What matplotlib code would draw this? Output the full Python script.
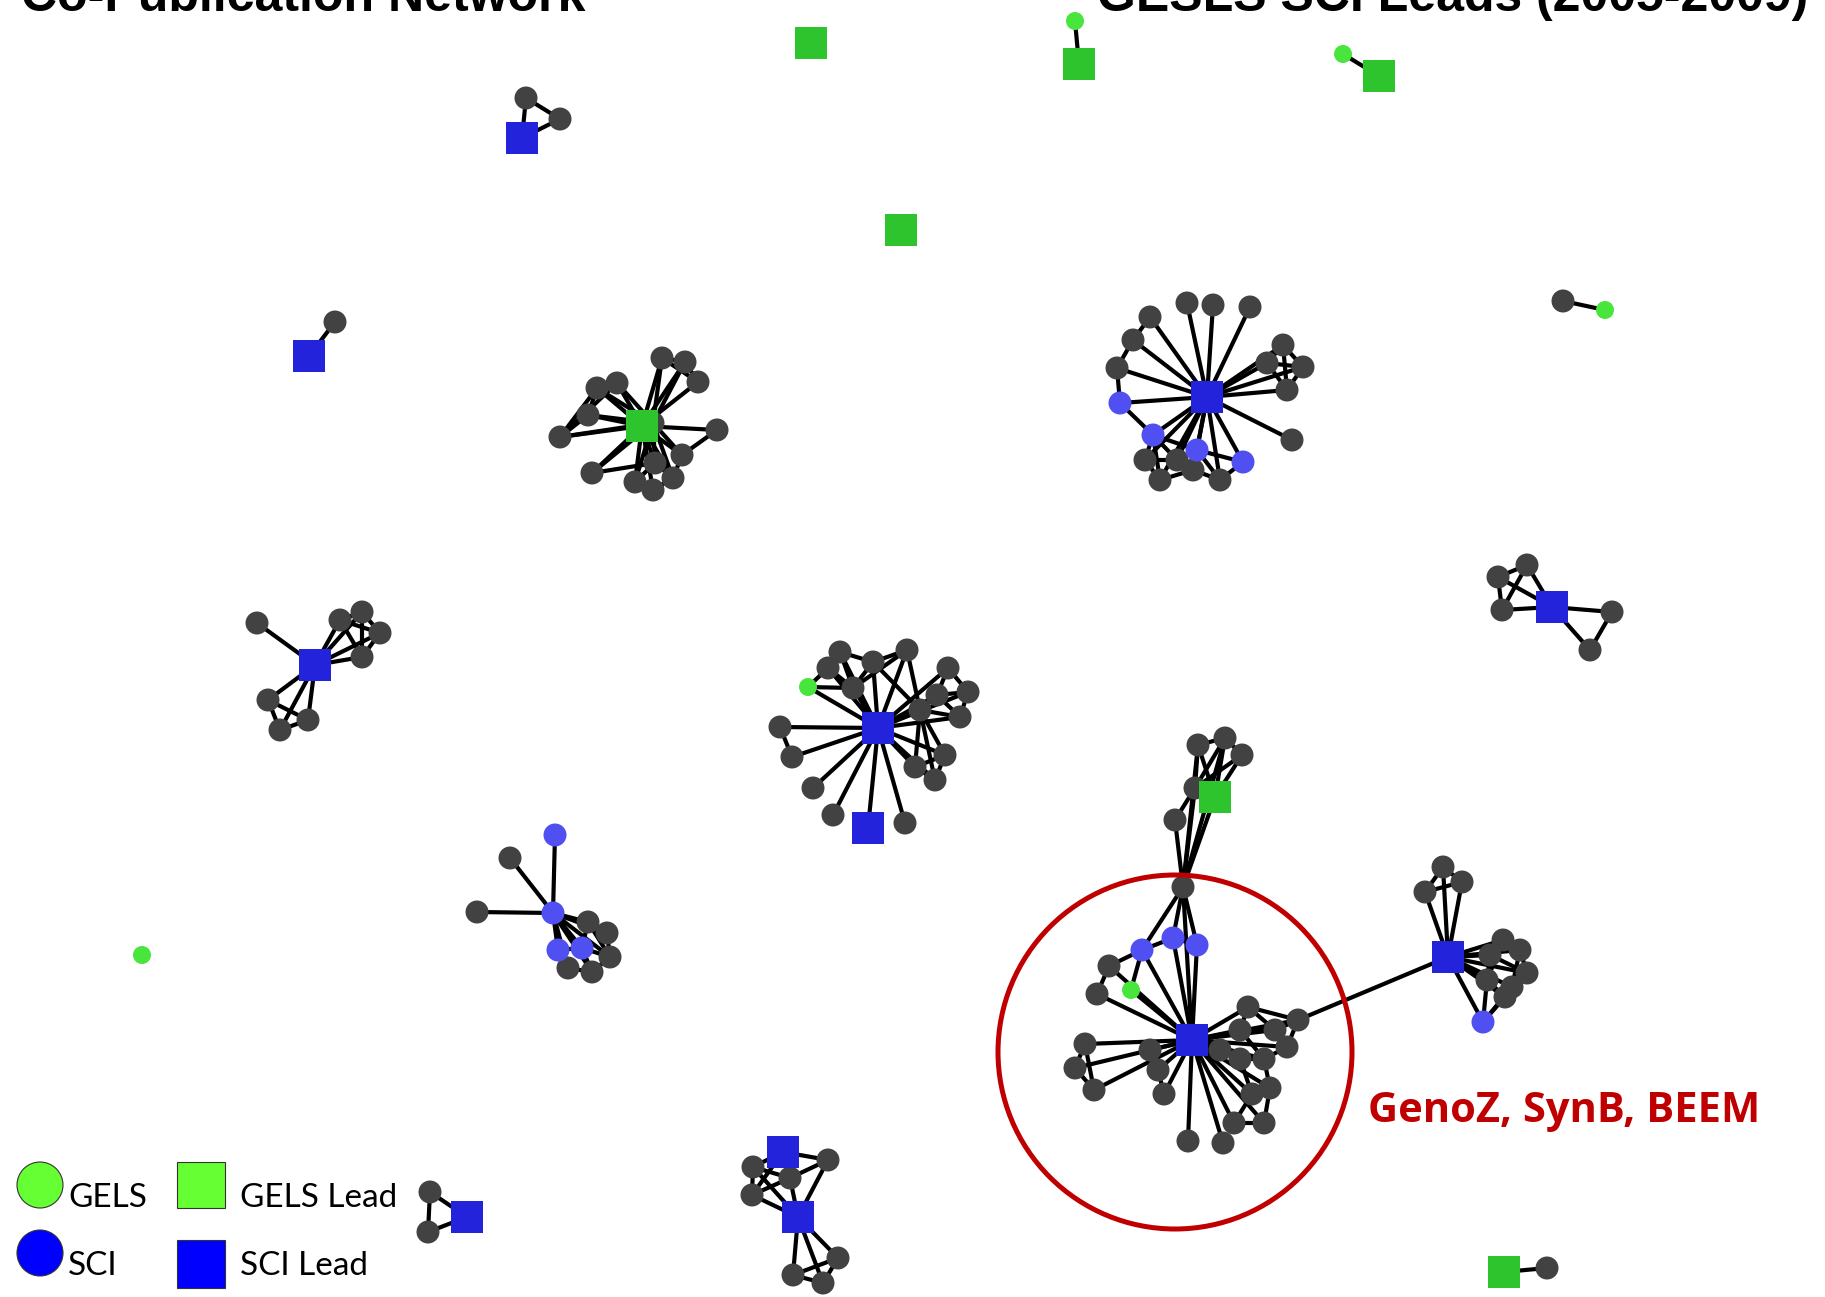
import matplotlib
matplotlib.use("Agg")
import matplotlib.pyplot as plt
from matplotlib.patches import Circle, Rectangle

# ---------------- data ----------------
# node kinds: d = other author, g = GELS, s = SCI, G = GELS Lead, S = SCI Lead
clusters = {}

clusters["gels_iso1"] = dict(nodes=[(811, 43, "G")], edges=[])
clusters["gels_pair1"] = dict(nodes=[(1079, 64, "G"), (1075, 21, "g")], edges=[(0, 1)])
clusters["gels_pair2"] = dict(nodes=[(1379, 76, "G"), (1343, 54, "g")], edges=[(0, 1)])
clusters["gels_iso2"] = dict(nodes=[(901, 230, "G")], edges=[])
clusters["gels_pair3"] = dict(nodes=[(1605, 310, "g"), (1563, 301, "d")], edges=[(0, 1)])
clusters["gels_iso3"] = dict(nodes=[(142, 955, "g")], edges=[])
clusters["gels_pair4"] = dict(nodes=[(1504, 1272, "G"), (1547, 1268, "d")], edges=[(0, 1)])

clusters["sci_tri1"] = dict(nodes=[(522, 138, "S"), (526, 98, "d"), (560, 119, "d")],
                            edges=[(0, 1), (0, 2), (1, 2)])
clusters["sci_pair1"] = dict(nodes=[(309, 356, "S"), (335, 322, "d")], edges=[(0, 1)])
clusters["sci_tri2"] = dict(nodes=[(467, 1217, "S"), (430, 1192, "d"), (428, 1232, "d")],
                            edges=[(0, 1), (0, 2), (1, 2)])

clusters["gels_star"] = dict(
    nodes=[(642, 426, "G"), (662, 358, "d"), (685, 362, "d"), (698, 382, "d"), (597, 388, "d"),
           (617, 383, "d"), (588, 415, "d"), (560, 437, "d"), (717, 430, "d"), (592, 473, "d"),
           (682, 455, "d"), (655, 463, "d"), (673, 478, "d"), (635, 482, "d"), (653, 490, "d"),
           (653, 423, "d")],
    edges=[(0, i) for i in range(1, 16)] + [(7, 4), (7, 5), (7, 6), (6, 4), (4, 5), (1, 2), (2, 3),
                                           (1, 3), (8, 10), (11, 12), (13, 14), (11, 13), (10, 12),
                                           (14, 12), (9, 11), (15, 10), (15, 11), (6, 15), (4, 15),
                                           (5, 15), (1, 15), (2, 15), (13, 15), (9, 15), (12, 15),
                                           (7, 15)])

clusters["sci_star1"] = dict(
    nodes=[(1207, 397, "S"), (1187, 303, "d"), (1213, 305, "d"), (1250, 307, "d"), (1150, 317, "d"),
           (1133, 340, "d"), (1117, 368, "d"), (1120, 403, "s"), (1153, 435, "s"), (1197, 450, "s"),
           (1243, 462, "s"), (1283, 345, "d"), (1267, 363, "d"), (1303, 367, "d"), (1287, 390, "d"),
           (1292, 440, "d"), (1145, 460, "d"), (1160, 480, "d"), (1193, 470, "d"), (1220, 480, "d"),
           (1177, 460, "d")],
    edges=[(0, i) for i in range(1, 21)] + [(4, 5), (5, 6), (6, 7), (7, 8), (11, 12), (11, 13),
                                           (11, 14), (12, 13), (12, 14), (13, 14), (8, 16), (8, 17),
                                           (8, 20), (9, 18), (9, 19), (9, 10), (16, 17), (17, 18),
                                           (18, 19), (16, 20), (20, 18), (10, 19), (8, 9)])

clusters["sci_star2"] = dict(
    nodes=[(878, 728, "S"), (808, 687, "g"), (840, 652, "d"), (907, 650, "d"), (873, 662, "d"),
           (828, 668, "d"), (853, 688, "d"), (948, 668, "d"), (968, 692, "d"), (937, 695, "d"),
           (920, 710, "d"), (960, 717, "d"), (780, 727, "d"), (792, 757, "d"), (945, 755, "d"),
           (915, 767, "d"), (935, 780, "d"), (813, 788, "d"), (833, 815, "d"), (905, 823, "d"),
           (868, 828, "S")],
    edges=[(0, i) for i in range(1, 21)] + [(12, 13), (2, 4), (4, 3), (2, 5), (5, 6), (2, 6),
                                           (4, 6), (3, 6), (1, 6), (1, 5), (3, 10), (7, 8), (7, 9),
                                           (8, 9), (8, 11), (9, 11), (9, 10), (10, 11), (10, 14),
                                           (10, 15), (14, 16), (15, 16), (14, 15), (4, 10), (10, 16)])

clusters["sci_star3"] = dict(
    nodes=[(315, 665, "S"), (257, 623, "d"), (340, 620, "d"), (362, 612, "d"), (380, 633, "d"),
           (362, 657, "d"), (268, 700, "d"), (280, 730, "d"), (308, 720, "d")],
    edges=[(0, i) for i in range(1, 9)] + [(2, 3), (2, 4), (2, 5), (3, 4), (3, 5), (4, 5),
                                          (6, 7), (7, 8), (6, 8)])

clusters["sci_circle"] = dict(
    nodes=[(553, 913, "s"), (555, 835, "s"), (510, 858, "d"), (477, 912, "d"), (558, 950, "s"),
           (582, 948, "s"), (588, 922, "d"), (607, 933, "d"), (610, 957, "d"), (568, 968, "d"),
           (592, 972, "d")],
    edges=[(0, i) for i in range(1, 11)] + [(4, 5), (5, 6), (6, 7), (7, 8), (8, 10), (9, 10),
                                           (4, 9), (5, 10), (5, 8), (6, 8)])

clusters["sci_pair_leads"] = dict(
    nodes=[(783, 1152, "S"), (798, 1217, "S"), (753, 1167, "d"), (752, 1195, "d"), (828, 1160, "d"),
           (790, 1178, "d"), (838, 1258, "d"), (793, 1275, "d"), (823, 1283, "d")],
    edges=[(0, 2), (0, 3), (0, 4), (0, 5), (1, 2), (1, 3), (1, 4), (1, 5), (2, 3), (2, 5), (3, 5),
           (4, 5), (1, 6), (1, 7), (1, 8), (6, 7), (7, 8), (6, 8)])

clusters["sci_right"] = dict(
    nodes=[(1552, 607, "S"), (1498, 577, "d"), (1527, 565, "d"), (1502, 610, "d"), (1612, 612, "d"),
           (1590, 650, "d")],
    edges=[(0, 1), (0, 2), (0, 3), (0, 4), (0, 5), (1, 2), (1, 3), (2, 3), (4, 5)])

clusters["big"] = dict(
    nodes=[(1192, 1040, "S"),                                                       # 0 hub lead
           (1183, 887, "d"),                                                        # 1 connector
           (1215, 797, "G"), (1198, 745, "d"), (1225, 738, "d"), (1242, 755, "d"),  # 2-5
           (1195, 788, "d"), (1175, 820, "d"),                                      # 6-7
           (1142, 950, "s"), (1173, 938, "s"), (1197, 945, "s"),                    # 8-10
           (1131, 990, "g"), (1109, 966, "d"), (1097, 994, "d"),                    # 11-13
           (1085, 1044, "d"), (1075, 1068, "d"), (1094, 1090, "d"), (1150, 1050, "d"),  # 14-17
           (1164, 1094, "d"), (1188, 1141, "d"), (1223, 1143, "d"), (1158, 1070, "d"),  # 18-21
           (1248, 1007, "d"), (1298, 1020, "d"), (1240, 1030, "d"), (1275, 1030, "d"),  # 22-25
           (1287, 1047, "d"), (1264, 1059, "d"), (1240, 1059, "d"), (1270, 1088, "d"),  # 26-29
           (1252, 1094, "d"), (1234, 1123, "d"), (1264, 1123, "d"), (1220, 1050, "d"),  # 30-33
           (1448, 957, "S"),                                                        # 34 right lead
           (1443, 867, "d"), (1425, 892, "d"), (1462, 882, "d"), (1503, 940, "d"),  # 35-38
           (1520, 950, "d"), (1490, 955, "d"), (1527, 973, "d"), (1487, 980, "d"),  # 39-42
           (1512, 987, "d"), (1505, 997, "d"), (1483, 1022, "s")],                  # 43-45
    edges=[(0, i) for i in list(range(1, 2)) + list(range(8, 34))]
          + [(1, 2), (1, 3), (1, 4), (1, 6), (1, 7), (2, 3), (2, 4), (2, 5), (3, 4), (4, 5),
             (3, 6), (4, 6), (5, 6), (6, 7), (2, 6), (1, 8), (1, 9), (1, 10), (8, 9), (9, 10),
             (8, 11), (8, 12), (12, 13), (14, 15), (15, 16), (14, 16), (17, 21), (18, 21),
             (22, 23), (22, 24), (23, 25), (24, 25), (25, 26), (26, 27), (27, 28), (24, 27),
             (27, 29), (28, 30), (29, 30), (30, 31), (31, 32), (29, 32), (22, 25), (23, 26),
             (23, 34)]
          + [(34, i) for i in range(35, 46)]
          + [(35, 36), (35, 37), (36, 37), (38, 39), (38, 40), (39, 41), (40, 42), (41, 43),
             (42, 44), (43, 44), (40, 41), (38, 42), (39, 43), (42, 45), (44, 45), (43, 45)])

kind_style = {
    "d": dict(marker="o", color="#424242", size=23),
    "g": dict(marker="o", color="#48e63c", size=18),
    "s": dict(marker="o", color="#5050f2", size=23),
    "G": dict(marker="s", color="#2ec42e", size=32),
    "S": dict(marker="s", color="#2323dc", size=32),
}
kind_order = ["d", "g", "s", "G", "S"]

title_left = "Co-Publication Network"
title_right = "GESLS SCI Leads (2005-2009)"
annotation_text = "GenoZ, SynB, BEEM"
legend_labels = ["GELS", "SCI", "GELS Lead", "SCI Lead"]

# ---------------- figure ----------------
W, H = 1825, 1297
fig = plt.figure(figsize=(W / 100, H / 100), dpi=100)
ax = fig.add_axes([0, 0, 1, 1])
ax.set_xlim(0, W)
ax.set_ylim(H, 0)
ax.axis("off")

pt_per_px = 72 / 100

# edges
for c in clusters.values():
    nodes = c["nodes"]
    for a, b in c["edges"]:
        ax.plot([nodes[a][0], nodes[b][0]], [nodes[a][1], nodes[b][1]],
                color="black", lw=3.0, solid_capstyle="round", zorder=1)

# nodes by kind
for k in kind_order:
    xs, ys = [], []
    for c in clusters.values():
        for x, y, kk in c["nodes"]:
            if kk == k:
                xs.append(x)
                ys.append(y)
    st = kind_style[k]
    ax.scatter(xs, ys, marker=st["marker"], s=(st["size"] * pt_per_px) ** 2,
               color=st["color"], edgecolors="none", zorder=2 + kind_order.index(k))

# red circle highlight
ax.add_patch(Circle((1175, 1052), 177, fill=False, edgecolor="#c00000", lw=3.6, zorder=10))
ax.text(1368, 1122, annotation_text, color="#c00000", fontsize=30, fontweight="bold",
        family="Open Sans", va="baseline", ha="left", zorder=11)

# titles (partially cut at the top, as in the reference)
ax.text(21, 11, title_left, fontsize=36, fontweight="bold", family="Liberation Sans",
        va="baseline", ha="left", zorder=11)
ax.text(1097, 11, title_right, fontsize=36, fontweight="bold", family="Liberation Sans",
        va="baseline", ha="left", zorder=11)

# legend
ax.add_patch(Circle((40, 1185), 23, facecolor="#66ff33", edgecolor="#333333", lw=0.8, zorder=11))
ax.add_patch(Circle((40, 1253), 23, facecolor="#0000ff", edgecolor="#333333", lw=0.8, zorder=11))
ax.add_patch(Rectangle((177, 1162), 48, 46, facecolor="#66ff33", edgecolor="#333333", lw=0.8, zorder=11))
ax.add_patch(Rectangle((177, 1240), 48, 48, facecolor="#0000ff", edgecolor="#333333", lw=0.8, zorder=11))
leg_font = dict(fontsize=24, family="Lato", va="baseline", ha="left", zorder=12)
ax.text(68, 1207, legend_labels[0], **leg_font)
ax.text(68, 1275, legend_labels[1], **leg_font)
ax.text(240, 1207, legend_labels[2], **leg_font)
ax.text(240, 1275, legend_labels[3], **leg_font)

fig.savefig("out.png", dpi=100)
